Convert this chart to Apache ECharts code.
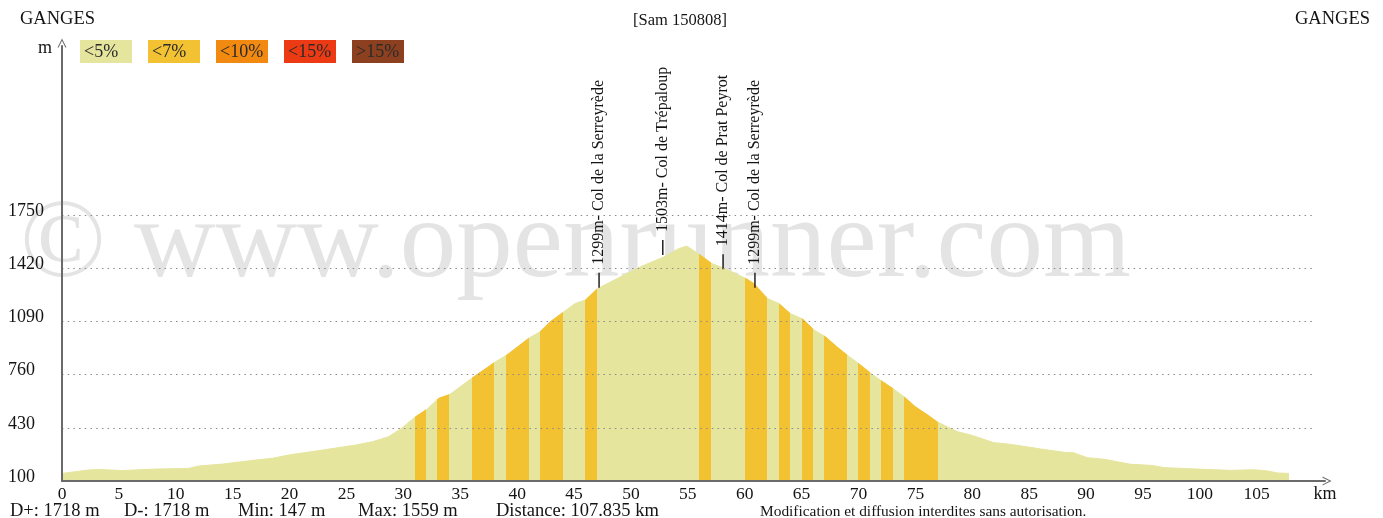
<!DOCTYPE html>
<html>
<head>
<meta charset="utf-8">
<script src="https://cdn.jsdelivr.net/npm/echarts@6/dist/echarts.min.js"></script>
<style>
html,body{margin:0;padding:0;background:#fff;}
#chart{width:1383px;height:518px;}
</style>
</head>
<body>
<div id="chart"></div>
<script>
// ---- data ----
const distanceKm = [0, 2.3, 3.2, 5.3, 8.2, 11.1, 12.0, 14.1, 17.0, 18.5, 19.9, 22.9, 25.8, 27.3, 28.7, 29.8, 31.1, 32.1, 33.1, 34.1, 36.0, 38.1, 39.1, 41.0, 42.0, 42.9, 44.1, 45.1, 46.0, 47.0, 48.8, 50.8, 52.9, 54.1, 54.9, 56.1, 57.1, 58.2, 60.1, 60.8, 62.0, 63.0, 64.0, 65.1, 66.1, 67.1, 68.1, 69.0, 70.0, 71.1, 71.9, 73.0, 74.0, 75.0, 76.1, 76.9, 77.8, 78.7, 79.9, 81.9, 83.1, 85.1, 86.0, 88.1, 88.9, 90.1, 91.6, 93.9, 95.7, 96.9, 99.8, 102.7, 104.8, 106.0, 106.8, 107.835];
const elevationM = [147, 168, 172, 165, 174, 178, 193, 205, 230, 241, 261, 292, 323, 344, 375, 425, 500, 547, 613, 638, 737, 840, 882, 985, 1026, 1088, 1150, 1202, 1223, 1291, 1357, 1429, 1491, 1539, 1559, 1502, 1450, 1420, 1357, 1326, 1233, 1202, 1140, 1105, 1037, 995, 933, 882, 830, 768, 727, 675, 623, 561, 509, 468, 437, 406, 385, 338, 330, 309, 299, 278, 276, 245, 235, 204, 197, 183, 174, 166, 170, 162, 150, 147];
// gradient 5-7% sections (start km, end km)
const steepStart = [31, 33, 36, 39, 42, 46, 56, 60, 63, 65, 67, 70, 72, 74];
const steepEnd   = [32, 34, 38, 41, 44, 47, 57, 62, 64, 66, 69, 71, 73, 77];
// passes
const passKm = [47.2, 52.8, 58.1, 60.9];
const passElev = [1299, 1503, 1414, 1299];
const passName = ['1299m- Col de la Serreyrède', '1503m- Col de Trépaloup', '1414m- Col de Prat Peyrot', '1299m- Col de la Serreyrède'];
// grid lines / ticks
const yTicks = [430, 760, 1090, 1420, 1750];
const legendLabels = ['<5%', '<7%', '<10%', '<15%', '>15%'];
const legendColors = ['#e5e59e', '#f2c232', '#f28a12', '#ec3b14', '#8c401f'];

const SERIF = '"Liberation Serif", "DejaVu Serif", serif';
const TXT = '#141414';

const chart = echarts.init(document.getElementById('chart'), null, {renderer: 'canvas'});

const pieces = steepStart.map((s, i) => ({gte: s, lt: steepEnd[i], color: legendColors[1]}));

const chevron = 'path://M0,20 L10,0 L20,20 L17.5,20 L10,5 L2.5,20 Z';

const graphics = [];
// watermark
graphics.push({type: 'text', left: 20, top: 190, z: -10, silent: true,
  style: {text: '© www.openrunner.com', font: '113px ' + SERIF, fill: '#e4e4e4'}});
// top texts
graphics.push({type: 'text', left: 20, top: 10, style: {text: 'GANGES', font: '18.5px ' + SERIF, fill: TXT}});
graphics.push({type: 'text', right: 13, top: 10, style: {text: 'GANGES', font: '18.5px ' + SERIF, fill: TXT}});
graphics.push({type: 'text', left: 633, top: 12, style: {text: '[Sam 150808]', font: '16.5px ' + SERIF, fill: TXT}});
// legend boxes
legendLabels.forEach((t, i) => {
  graphics.push({type: 'group', left: 80 + i * 68, top: 40, children: [
    {type: 'rect', shape: {x: 0, y: 0, width: 52, height: 23}, style: {fill: legendColors[i]}},
    {type: 'text', x: 4, y: 12, style: {text: t, font: '18px ' + SERIF, fill: '#2a2a2a', verticalAlign: 'middle'}}
  ]});
});
// bottom stats
const stats = [['D+: 1718 m', 10], ['D-: 1718 m', 124], ['Min: 147 m', 238], ['Max: 1559 m', 358], ['Distance: 107.835 km', 496]];
stats.forEach(s => graphics.push({type: 'text', left: s[1], top: 502, style: {text: s[0], font: '18.5px ' + SERIF, fill: TXT}}));
graphics.push({type: 'text', left: 760, top: 504, style: {text: 'Modification et diffusion interdites sans autorisation.', font: '15.4px ' + SERIF, fill: TXT}});

const option = {
  animation: false,
  backgroundColor: '#fff',
  textStyle: {fontFamily: SERIF},
  grid: {left: 62, right: 58, top: 46, bottom: 37},
  graphic: graphics,
  visualMap: {
    show: false, type: 'piecewise', dimension: 0, seriesIndex: 1,
    pieces: pieces, outOfRange: {color: legendColors[0]}
  },
  xAxis: {
    type: 'value', min: 0, max: 111, interval: 5, z: 5,
    name: 'km', nameLocation: 'end', nameGap: 0,
    nameTextStyle: {color: TXT, fontSize: 18, fontFamily: SERIF, align: 'center', verticalAlign: 'top', padding: [4, 0, 0, 0]},
    axisLine: {show: true, lineStyle: {color: '#6a6a6a', width: 2}, symbol: ['none', chevron], symbolSize: [13, 9], symbolOffset: [0, 2]},
    axisTick: {show: false},
    splitLine: {show: false},
    axisLabel: {color: TXT, fontSize: 17.5, fontFamily: SERIF, margin: 4,
      formatter: v => (v % 5 === 0 && v <= 105) ? String(v) : ''}
  },
  yAxis: {
    type: 'value', min: 100, max: 2800, interval: 330, z: 5,
    name: 'm', nameLocation: 'end', nameGap: -2,
    nameTextStyle: {color: TXT, fontSize: 18, fontFamily: SERIF, align: 'right', verticalAlign: 'middle', padding: [0, 10, 0, 0]},
    axisLine: {show: true, lineStyle: {color: '#6a6a6a', width: 2}, symbol: ['none', chevron], symbolSize: [11, 9], symbolOffset: [0, 3]},
    axisTick: {show: false},
    splitLine: {show: false},
    axisLabel: {color: TXT, fontSize: 18, fontFamily: SERIF, margin: 54, align: 'left',
      verticalAlign: 'bottom', lineHeight: 8,
      formatter: v => v <= 1750 ? String(v) : ''}
  },
  series: [
    {
      type: 'line', z: 1, silent: true, symbol: 'none', data: [[0, 100]],
      lineStyle: {width: 0},
      markLine: {
        silent: true, symbol: ['none', 'none'], label: {show: false},
        lineStyle: {color: '#8a8a8a', type: [1.5, 4.2], width: 1},
        emphasis: {disabled: true},
        data: yTicks.map(v => [{coord: [0, v]}, {coord: [110, v]}])
      }
    },
    {
      type: 'line', z: 2, silent: true, symbol: 'none', showSymbol: false,
      data: distanceKm.map((d, i) => [d, elevationM[i]]),
      lineStyle: {width: 1},
      areaStyle: {opacity: 1}
    },
    {
      type: 'custom', z: 4, silent: true,
      data: passKm.map((k, i) => [k, passElev[i]]),
      renderItem: (params, api) => {
        const p = api.coord([api.value(0), api.value(1)]);
        return {type: 'group', children: [
          {type: 'line', shape: {x1: p[0], y1: p[1], x2: p[0], y2: p[1] - 15}, style: {stroke: '#222', lineWidth: 1.5}},
          {type: 'text', x: p[0], y: p[1] - 23, rotation: Math.PI / 2,
            style: {text: passName[params.dataIndex], font: '16px ' + SERIF, fill: TXT, align: 'left', verticalAlign: 'middle'}}
        ]};
      }
    }
  ]
};
chart.setOption(option);
</script>
</body>
</html>
